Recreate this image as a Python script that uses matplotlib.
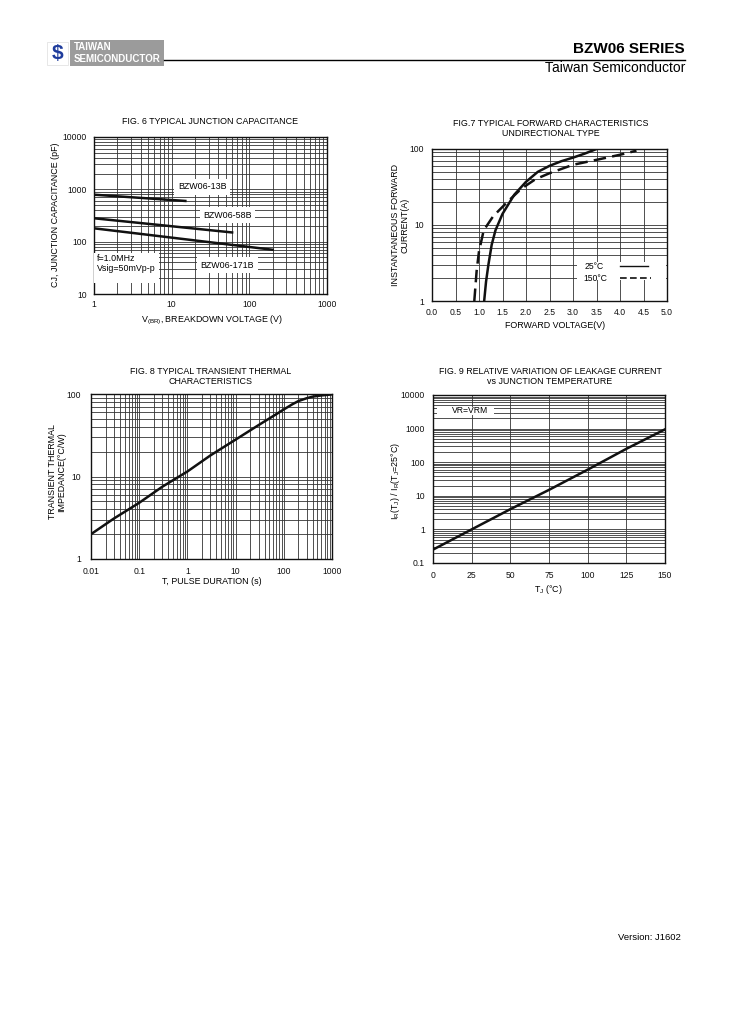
import numpy as np
import matplotlib
matplotlib.use("Agg")
import matplotlib.pyplot as plt
from matplotlib.patches import Rectangle
from matplotlib.lines import Line2D
from matplotlib.ticker import NullFormatter, LogLocator

plt.rcParams["font.family"] = ["Liberation Sans", "DejaVu Sans"]
plt.rcParams["mathtext.default"] = "regular"

W, H = 729, 1032

# Fig. 6: junction capacitance vs breakdown voltage
v13, c13 = [1, 15], [790, 600]
v58, c58 = [1, 60], [280, 150]
v171, c171 = [1, 200], [180, 70]

# Fig. 7: forward characteristics
vf25 = [1.11, 1.15, 1.20, 1.27, 1.35, 1.50, 1.75, 2.00, 2.25, 2.50, 2.75, 3.00, 3.25, 3.50]
if25 = [1.0, 1.8, 3.0, 5.5, 8.5, 14, 25, 37, 50, 60, 69, 77, 87, 100]
vf150 = [0.90, 0.95, 1.00, 1.10, 1.30, 1.60, 1.90, 2.20, 2.50, 3.00, 3.50, 4.00, 4.35]
if150 = [1.0, 2.5, 4.5, 8.5, 13, 20, 30, 40, 48, 62, 72, 84, 95]

# Fig. 8: transient thermal impedance
tp = [0.01, 0.03, 0.1, 0.3, 1, 3, 10, 30, 70, 100, 150, 200, 300, 400, 600, 1000]
zth = [2.0, 3.1, 4.8, 7.5, 11.5, 18, 28, 42, 57, 65, 75, 82, 89, 93, 96, 99]

# Fig. 9: leakage current ratio vs junction temperature
tj = [0, 25, 50, 75, 100, 125, 150]
ir_ratio = [0.25, 1, 4, 15, 60, 250, 950]

FS = 6.4
TFS = 6.2
BLACK = "#111111"


def px_axes(fig, l, t, r, b):
    return fig.add_axes([l / W, 1 - b / H, (r - l) / W, (b - t) / H])


def ftext(fig, x, y, s, **kw):
    kw.setdefault("ha", "center")
    kw.setdefault("va", "center")
    kw.setdefault("fontsize", FS)
    fig.text(x / W, 1 - y / H, s, **kw)


def style(ax, xpad, ypad):
    ax.grid(which="both", color="#333333", lw=0.6)
    ax.set_axisbelow(True)
    ax.tick_params(which="both", length=0, labelsize=TFS, colors=BLACK)
    ax.tick_params(axis="x", pad=xpad)
    ax.tick_params(axis="y", pad=ypad)
    for s in ax.spines.values():
        s.set_linewidth(1.0)
        s.set_color(BLACK)


fig = plt.figure(figsize=(W / 100, H / 100), dpi=100)

# ---- header ----
fig.add_artist(Rectangle((47 / W, 1 - 65 / H), 21 / W, 23 / H, transform=fig.transFigure,
                         fc="white", ec="#dddddd", lw=0.5))
ftext(fig, 57.5, 53.5, "$", color="#1f3c9c", fontsize=15, fontweight="bold")
fig.add_artist(Rectangle((70 / W, 1 - 66 / H), 94 / W, 26 / H, transform=fig.transFigure,
                         fc="#9b9b9b", ec="none"))
ftext(fig, 74, 47.5, "TAIWAN", ha="left", color="white", fontsize=7, fontweight="bold")
ftext(fig, 74, 59, "SEMICONDUCTOR", ha="left", color="white", fontsize=7, fontweight="bold")
fig.add_artist(Line2D([164 / W, 685 / W], [1 - 60 / H, 1 - 60 / H], transform=fig.transFigure,
                      color="black", lw=1.0))
ftext(fig, 685, 49, "BZW06 SERIES", ha="right", fontsize=11, fontweight="bold")
ftext(fig, 685, 68, "Taiwan Semiconductor", ha="right", fontsize=10)
ftext(fig, 681, 937, "Version: J1602", ha="right", fontsize=6.8)

# ---- Fig. 6 ----
ax6 = px_axes(fig, 94, 137, 327, 294)
ax6.set_xscale("log")
ax6.set_yscale("log")
ax6.set_xlim(1, 1000)
ax6.set_ylim(10, 10000)
for v, c in [(v13, c13), (v58, c58), (v171, c171)]:
    ax6.plot(v, c, color=BLACK, lw=1.8, zorder=4)
ax6.set_xticks([1, 10, 100, 1000], ["1", "10", "100", "1000"])
ax6.set_yticks([10, 100, 1000, 10000], ["10", "100", "1000", "10000"])
style(ax6, 4, 5)
box = dict(fc="white", ec="none", pad=2.5)
ax6.text(12, 1130, "BZW06-13B", fontsize=FS, va="center", bbox=box, zorder=3)
ax6.text(25.3, 323, "BZW06-58B", fontsize=FS, va="center", bbox=box, zorder=3)
ax6.text(23.6, 35.7, "BZW06-171B", fontsize=FS, va="center", bbox=box, zorder=3)
ax6.add_patch(Rectangle((0, 0.07), 0.28, 0.19, transform=ax6.transAxes,
                        fc="white", ec="none", zorder=3))
ax6.text(0.012, 0.225, "f=1.0MHz", transform=ax6.transAxes, fontsize=FS, va="center", zorder=4)
ax6.text(0.012, 0.165, "Vsig=50mVp-p", transform=ax6.transAxes, fontsize=FS, va="center", zorder=4)
ftext(fig, 210.5, 122, "FIG. 6 TYPICAL JUNCTION CAPACITANCE")
ftext(fig, 211.7, 320, "V$_{(BR)}$, BREAKDOWN VOLTAGE (V)")
ftext(fig, 56, 215, "CJ, JUNCTION CAPACITANCE (pF)", rotation=90)

# ---- Fig. 7 ----
ax7 = px_axes(fig, 432, 149, 667, 301)
ax7.set_yscale("log")
ax7.set_xlim(0, 5)
ax7.set_ylim(1, 100)
ax7.plot(vf25, if25, color=BLACK, lw=1.8, zorder=4)
ax7.plot(vf150, if150, color=BLACK, lw=1.8, ls=(0, (5, 2.5)), zorder=4)
xt7 = np.arange(0, 5.01, 0.5)
ax7.set_xticks(xt7, [f"{x:.1f}" for x in xt7])
ax7.set_yticks([1, 10, 100], ["1", "10", "100"])
ax7.yaxis.set_minor_formatter(NullFormatter())
style(ax7, 5, 6)
ax7.add_patch(Rectangle((0.617, 0.138), 0.38, 0.12, transform=ax7.transAxes,
                        fc="white", ec="none", zorder=3))
ax7.text(0.650, 0.225, "25°C", transform=ax7.transAxes, fontsize=TFS, va="center", zorder=4)
ax7.text(0.645, 0.150, "150°C", transform=ax7.transAxes, fontsize=TFS, va="center", zorder=4)
ax7.plot([0.80, 0.92], [0.230, 0.230], transform=ax7.transAxes, color=BLACK, lw=1.0, zorder=4)
ax7.plot([0.80, 0.93], [0.152, 0.152], transform=ax7.transAxes, color=BLACK, lw=1.2,
         ls=(0, (4, 2)), zorder=4)
ftext(fig, 551, 123, "FIG.7 TYPICAL FORWARD CHARACTERISTICS")
ftext(fig, 551, 133, "UNDIRECTIONAL TYPE")
ftext(fig, 555, 325, "FORWARD VOLTAGE(V)")
ftext(fig, 400, 225, "INSTANTANEOUS FORWARD\nCURRENT(A)", rotation=90, linespacing=1.0)

# ---- Fig. 8 ----
ax8 = px_axes(fig, 91, 394, 332, 559)
ax8.set_xscale("log")
ax8.set_yscale("log")
ax8.set_xlim(0.01, 1000)
ax8.set_ylim(1, 100)
ax8.plot(tp, zth, color=BLACK, lw=1.8, zorder=4)
ax8.set_xticks([0.01, 0.1, 1, 10, 100, 1000], ["0.01", "0.1", "1", "10", "100", "1000"])
ax8.set_yticks([1, 10, 100], ["1", "10", "100"])
ax8.xaxis.set_minor_formatter(NullFormatter())
ax8.yaxis.set_minor_formatter(NullFormatter())
style(ax8, 6, 7)
ftext(fig, 211, 372, "FIG. 8 TYPICAL TRANSIENT THERMAL")
ftext(fig, 211, 381.5, "CHARACTERISTICS")
ftext(fig, 211.7, 581, "T, PULSE DURATION (s)")
ftext(fig, 57, 472, "TRANSIENT THERMAL\nIMPEDANCE(°C/W)", rotation=90, linespacing=1.0)

# ---- Fig. 9 ----
ax9 = px_axes(fig, 433, 395, 665, 563)
ax9.set_yscale("log")
ax9.set_xlim(0, 150)
ax9.set_ylim(0.1, 10000)
ax9.plot(tj, ir_ratio, color=BLACK, lw=1.8, zorder=4)
ax9.set_xticks(tj, [str(t) for t in tj])
ax9.set_yticks([0.1, 1, 10, 100, 1000, 10000], ["0.1", "1", "10", "100", "1000", "10000"])
ax9.yaxis.set_minor_locator(LogLocator(base=10, subs=np.arange(2, 10)))
ax9.yaxis.set_minor_formatter(NullFormatter())
style(ax9, 6, 6)
ax9.add_patch(Rectangle((0.017, 0.88), 0.245, 0.05, transform=ax9.transAxes,
                        fc="white", ec="none", zorder=3))
ax9.text(0.08, 0.905, "VR=VRM", transform=ax9.transAxes, fontsize=TFS, va="center", zorder=4)
ftext(fig, 550, 372, "FIG. 9 RELATIVE VARIATION OF LEAKAGE CURRENT")
ftext(fig, 550, 381.5, "vs JUNCTION TEMPERATURE")
ftext(fig, 548, 590, "T$_J$ (°C)")
ftext(fig, 395, 481, "I$_R$(T$_J$) / I$_R$(T$_J$=25°C)", rotation=90)

fig.savefig("out.png", dpi=100)
